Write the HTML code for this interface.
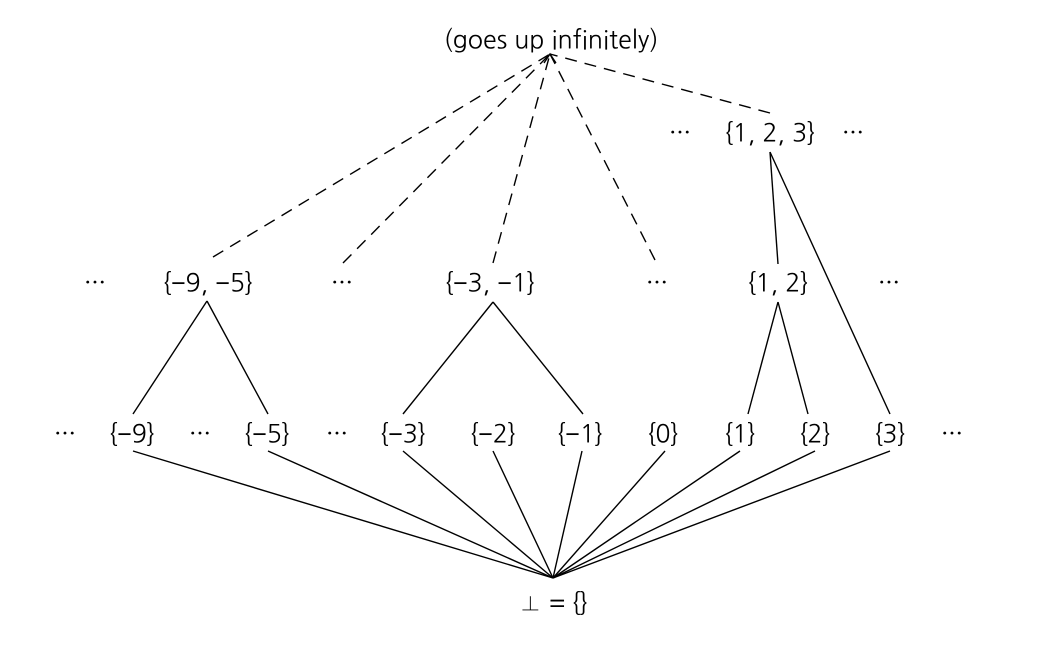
<!DOCTYPE html>
<html><head><meta charset="utf-8"><style>
html,body{margin:0;padding:0;background:#fff;}
svg{display:block;}
text{font-family:"NanumGothic","Liberation Sans",sans-serif;font-size:25px;fill:#000;text-anchor:middle;dominant-baseline:central;}
</style></head><body>
<svg width="1047" height="646" viewBox="0 0 1047 646" xmlns="http://www.w3.org/2000/svg">
<g stroke="#000" stroke-width="1.4" fill="none">
<g stroke-dasharray="12,8">
<line x1="213" y1="257" x2="550" y2="54"/>
<line x1="343" y1="263" x2="550" y2="54"/>
<line x1="493" y1="263" x2="550" y2="54"/>
<line x1="655" y1="260" x2="550" y2="54"/>
<line x1="770" y1="113" x2="550" y2="54"/>
</g>
<polyline points="544,63 550,54 556,63"/>
<line x1="770" y1="152" x2="778" y2="264"/>
<line x1="770" y1="152" x2="890" y2="414"/>
<line x1="207" y1="301" x2="133" y2="414"/>
<line x1="207" y1="301" x2="268" y2="414"/>
<line x1="493" y1="302" x2="403" y2="414"/>
<line x1="493" y1="302" x2="583" y2="414"/>
<line x1="778" y1="302" x2="748" y2="414"/>
<line x1="778" y1="302" x2="808" y2="414"/>
<line x1="553" y1="578" x2="133" y2="451"/>
<line x1="553" y1="578" x2="268" y2="451"/>
<line x1="553" y1="578" x2="403" y2="451"/>
<line x1="553" y1="578" x2="493" y2="451"/>
<line x1="553" y1="578" x2="582" y2="451"/>
<line x1="553" y1="578" x2="665" y2="451"/>
<line x1="553" y1="578" x2="740" y2="451"/>
<line x1="553" y1="578" x2="815" y2="451"/>
<line x1="553" y1="578" x2="890" y2="451"/>
</g>
<text x="551" y="40">(goes up infinitely)</text>
<text x="680" y="133">···</text>
<text x="770" y="133">{1, 2, 3}</text>
<text x="853" y="133">···</text>
<text x="95" y="283">···</text>
<text x="208" y="283">{−9, −5}</text>
<text x="342" y="283">···</text>
<text x="490" y="283">{−3, −1}</text>
<text x="657" y="283">···</text>
<text x="778" y="283">{1, 2}</text>
<text x="889" y="283">···</text>
<text x="65" y="434">···</text>
<text x="132" y="434">{−9}</text>
<text x="200" y="434">···</text>
<text x="267" y="434">{−5}</text>
<text x="337" y="434">···</text>
<text x="403" y="434">{−3}</text>
<text x="493" y="434">{−2}</text>
<text x="580" y="434">{−1}</text>
<text x="663" y="434">{0}</text>
<text x="740" y="434">{1}</text>
<text x="815" y="434">{2}</text>
<text x="890" y="434">{3}</text>
<text x="952" y="434">···</text>
<text x="553" y="603">⊥ = {}</text>
</svg>
</body></html>
